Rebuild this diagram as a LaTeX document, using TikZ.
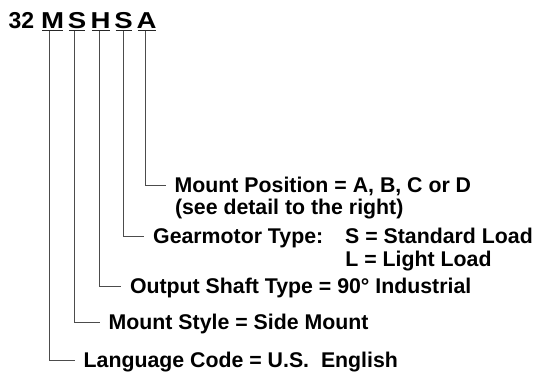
\documentclass[tikz,border=0pt]{standalone}
\usepackage{fontspec}
\setmainfont{Liberation Sans}
\begin{document}
\begin{tikzpicture}[x=1pt,y=-1pt,
  lbl/.style={anchor=base west,inner xsep=9pt,inner ysep=0pt,text height=16pt,text depth=2pt,
    font=\fontsize{21.3}{25}\selectfont\bfseries},
  code/.style={anchor=base,inner xsep=-1.3pt,inner ysep=1.6pt,text depth=0pt,
    font=\fontsize{23}{27}\selectfont\bfseries},
  uline/.style={line width=1.4pt,black!85},
  conn/.style={line width=1pt,black!70}]
\newcommand\wideletter[1]{\scalebox{1.2}[1]{#1}}
\useasboundingbox (0,0) rectangle (537,373);
% code line
\node[anchor=base west,inner sep=0pt,font=\fontsize{23}{27}\selectfont\bfseries] (num) at (8.5,28.7) {32};
\node[code] (cM)  at (52.7,28.7) {\wideletter{M}};
\node[code] (cS1) at (77,28.7) {\wideletter{S}};
\node[code] (cH)  at (100.7,28.7) {\wideletter{H}};
\node[code] (cS2) at (123.7,28.7) {\wideletter{S}};
\node[code] (cA)  at (146.7,28.7) {\wideletter{A}};
\foreach \n in {cM,cS1,cH,cS2,cA}
  \draw[uline] (\n.south west) -- (\n.south east);
% labels (x = text origin - 9pt inner xsep)
\node[lbl] (tA)  at (165.5,192.7) {Mount Position = A, B, C or D};
\node[lbl] (tA2) at (165.8,214.5) {(see detail to the right)};
\node[lbl] (tS2) at (144,243) {Gearmotor Type:};
\node[lbl] (tS2a) at (336,243) {S = Standard Load};
\node[lbl] (tS2b) at (336.2,266.7) {L = Light Load};
\node[lbl] (tH)  at (120.8,293) {Output Shaft Type = 90° Industrial};
\node[lbl] (tS1) at (99.5,329) {Mount Style = Side Mount};
\node[lbl] (tM)  at (74.5,367) {Language Code = U.S.\ \ English};
% connectors
\draw[conn] ([xshift=-1pt]cA.south)    |- (tA.west);
\draw[conn] ([xshift=-0.4pt]cS2.south) |- (tS2.west);
\draw[conn] ([xshift=-1.7pt]cH.south)  |- (tH.west);
\draw[conn] ([xshift=-3pt]cS1.south)   |- (tS1.west);
\draw[conn] ([xshift=-3.7pt]cM.south)  |- (tM.west);
\end{tikzpicture}
\end{document}
